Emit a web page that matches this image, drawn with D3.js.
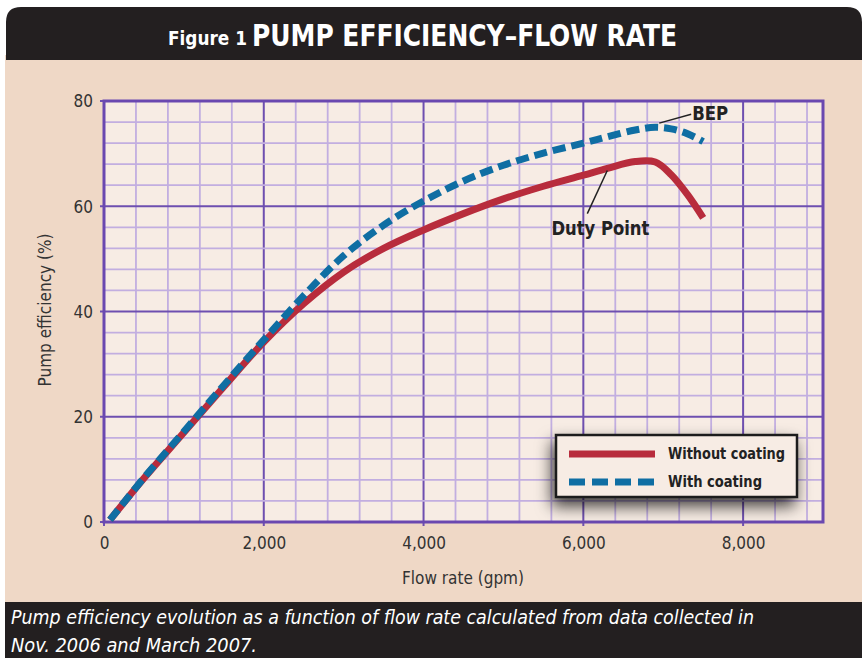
<!DOCTYPE html>
<html><head><meta charset="utf-8">
<script src="https://cdn.jsdelivr.net/npm/d3@7"></script>
<style>
html,body{margin:0;padding:0;background:#fff;}
svg{display:block;}
</style></head>
<body>
<svg id="chart" width="864" height="658"></svg>
<script>
// ---- data ----
const flowRate = [75, 500, 1000, 1500, 2000, 2500, 3000, 3500, 4000, 4500, 5000, 5500, 6000, 6300, 6650, 6900, 7100, 7300, 7500];
const withoutCoating = [0.4, 8.3, 17.0, 25.7, 34.2, 41.5, 47.5, 52.0, 55.5, 58.6, 61.4, 63.8, 65.9, 67.2, 68.5, 68.4, 66.0, 62.3, 57.8];
const withCoating    = [0.4, 8.4, 17.2, 26.0, 34.6, 43.0, 50.6, 56.4, 61.0, 64.8, 67.8, 70.1, 72.0, 73.2, 74.5, 75.0, 74.7, 73.8, 72.3];
const xTicks = [0, 2000, 4000, 6000, 8000];
const yTicks = [0, 20, 40, 60, 80];
const seriesNames = ["Without coating", "With coating"];
const titleSmall = "Figure 1";
const titleBig = "PUMP EFFICIENCY\u2013FLOW RATE";
const captionLines = ["Pump efficiency evolution as a function of flow rate calculated from data collected in",
                      "Nov. 2006 and March 2007."];

const svg = d3.select("#chart");
const narrow = "'Liberation Sans Narrow','Arial Narrow','DejaVu Sans Condensed','Liberation Sans',Arial,sans-serif";
const RED = "#b82c3c", BLUE = "#0f6ea3", DARK = "#231f20";

const defs = svg.append("defs");
const f = defs.append("filter").attr("id","shadow").attr("x","-30%").attr("y","-40%").attr("width","160%").attr("height","220%");
f.append("feDropShadow").attr("dx",-3).attr("dy",8).attr("stdDeviation",8).attr("flood-color","#000").attr("flood-opacity",0.75);

// panel background
svg.append("rect").attr("x",5).attr("y",55).attr("width",857).attr("height",550).attr("fill","#efd8c6");
// title bar (rounded top corners)
svg.append("path").attr("d","M6,60 L6,22 Q6,7 21,7 L847,7 Q862,7 862,22 L862,60 Z").attr("fill",DARK);
svg.append("text").attr("x",168).attr("y",45).attr("fill","#fff").attr("font-family",narrow).attr("font-weight","bold")
  .attr("font-size",19).attr("textLength",79).attr("lengthAdjust","spacingAndGlyphs").text(titleSmall);
svg.append("text").attr("x",252).attr("y",46).attr("fill","#fff").attr("font-family",narrow).attr("font-weight","bold")
  .attr("font-size",30).attr("textLength",425).attr("lengthAdjust","spacingAndGlyphs").text(titleBig);

// caption bar
svg.append("rect").attr("x",5).attr("y",602).attr("width",857).attr("height",56).attr("fill",DARK);
const capLen = [743, 246];
captionLines.forEach((t,i)=>{
  svg.append("text").attr("x",11).attr("y",624+i*28).attr("fill","#fff").attr("font-family",narrow)
    .attr("font-style","italic").attr("font-size",20).attr("textLength",capLen[i]).attr("lengthAdjust","spacingAndGlyphs").text(t);
});

// scales
const x = d3.scaleLinear().domain([0,9000]).range([104,823]);
const y = d3.scaleLinear().domain([0,80]).range([522,101]);

// plot area
svg.append("rect").attr("x",x(0)).attr("y",y(80)).attr("width",x(9000)-x(0)).attr("height",y(0)-y(80)).attr("fill","#f7ece4");

const grid = svg.append("g");
d3.range(0,9001,400).forEach(v=>{
  const major = v%2000===0;
  grid.append("line").attr("x1",x(v)).attr("x2",x(v)).attr("y1",y(80)).attr("y2",y(0)+(major?4:0))
    .attr("stroke",major?"#6e4fb0":"#c2aee0").attr("stroke-width",major?2:1.8);
});
d3.range(0,81,4).forEach(v=>{
  const major = v%20===0;
  grid.append("line").attr("x1",x(0)-(major?4:0)).attr("x2",x(9000)).attr("y1",y(v)).attr("y2",y(v))
    .attr("stroke",major?"#6e4fb0":"#c2aee0").attr("stroke-width",major?2:1.8);
});
svg.append("rect").attr("x",x(0)).attr("y",y(80)).attr("width",x(9000)-x(0)).attr("height",y(0)-y(80))
  .attr("fill","none").attr("stroke","#6a48b0").attr("stroke-width",3);

// axes (labels only)
const xAxis = svg.append("g").attr("transform",`translate(0,${y(0)+6})`)
  .call(d3.axisBottom(x).tickValues(xTicks).tickSize(0).tickFormat(d3.format(",")));
const yAxis = svg.append("g").attr("transform",`translate(${x(0)-8},0)`)
  .call(d3.axisLeft(y).tickValues(yTicks).tickSize(0));
[xAxis,yAxis].forEach(a=>{
  a.select(".domain").remove();
  a.selectAll("text").attr("font-family",narrow).attr("font-size",17).attr("fill","#333");
});
yAxis.selectAll("text").attr("dy","0.35em");
xAxis.selectAll("text").attr("dy","1.05em");

svg.append("text").attr("x",463).attr("y",584).attr("text-anchor","middle").attr("font-family",narrow)
  .attr("font-size",17).attr("fill","#333").text("Flow rate (gpm)");
svg.append("text").attr("transform","translate(51,310) rotate(-90)").attr("text-anchor","middle").attr("font-family",narrow)
  .attr("font-size",17).attr("fill","#333").text("Pump efficiency (%)");

// lines
const line = d3.line().x(d=>x(d[0])).y(d=>y(d[1])).curve(d3.curveCatmullRom.alpha(0.5));
const redData = flowRate.map((f,i)=>[f,withoutCoating[i]]);
const blueData = flowRate.map((f,i)=>[f,withCoating[i]]);
svg.append("path").attr("d",line(redData)).attr("fill","none").attr("stroke",RED).attr("stroke-width",7);
svg.append("path").attr("d",line(blueData)).attr("fill","none").attr("stroke",BLUE).attr("stroke-width",7)
  .attr("stroke-dasharray","13,6");

// annotations
svg.append("line").attr("x1",x(6950)).attr("y1",y(75.8)).attr("x2",x(7350)).attr("y2",y(77.5)).attr("stroke","#222").attr("stroke-width",1.5);
svg.append("text").attr("x",x(7350)+1).attr("y",y(77.5)+6).attr("font-family",narrow).attr("font-weight","bold")
  .attr("font-size",19).attr("fill","#222").attr("textLength",36).attr("lengthAdjust","spacingAndGlyphs").text("BEP");
svg.append("line").attr("x1",x(6300)).attr("y1",y(66.8)).attr("x2",x(6050)).attr("y2",y(58.6)).attr("stroke","#222").attr("stroke-width",1.5);
svg.append("text").attr("x",x(5600)).attr("y",y(54.6)).attr("font-family",narrow).attr("font-weight","bold")
  .attr("font-size",19).attr("fill","#222").attr("textLength",98).attr("lengthAdjust","spacingAndGlyphs").text("Duty Point");

// legend
const lg = svg.append("g");
lg.append("rect").attr("x",556).attr("y",435).attr("width",241).attr("height",62).attr("fill","#f7ece4")
  .attr("stroke","#1a1a1a").attr("stroke-width",2.5).attr("filter","url(#shadow)");
lg.append("line").attr("x1",569).attr("x2",655).attr("y1",454).attr("y2",454).attr("stroke",RED).attr("stroke-width",7);
lg.append("line").attr("x1",569).attr("x2",655).attr("y1",482).attr("y2",482).attr("stroke",BLUE).attr("stroke-width",7).attr("stroke-dasharray","16,7");
const legLen = [117, 94];
seriesNames.forEach((n,i)=>{
  lg.append("text").attr("x",668).attr("y",459+i*28).attr("font-family",narrow).attr("font-weight","bold")
    .attr("font-size",16).attr("fill","#222").attr("textLength",legLen[i]).attr("lengthAdjust","spacingAndGlyphs").text(n);
});
</script>
</body></html>
